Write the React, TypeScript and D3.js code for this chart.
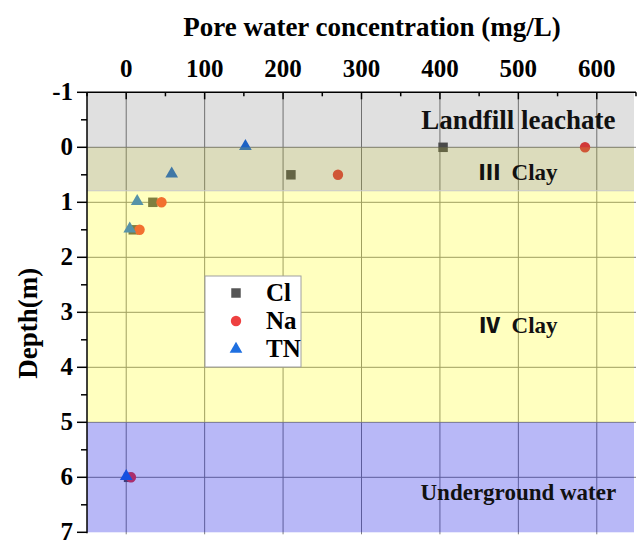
import * as d3 from "d3";

// depth of each sampling point (m) and concentration of each species (mg/L)
const depths = [0, 0.5, 1, 1.5, 6];
const cl = [404, 210, 34, 9, 3];
const na = [585, 270, 45, 17, 6];
const tn = [152, 58, 14, 4.5, 0];

const xTicks = [0, 100, 200, 300, 400, 500, 600];
const yTicks = [-1, 0, 1, 2, 3, 4, 5, 6, 7];

// soil layers: top / bottom depth (m)
const layerNames = ["Landfill leachate", "Clay", "Clay", "Underground water"];
const layerNums = ["", "Ⅲ", "Ⅳ", ""];
const layerTop = [-1, 0, 0.79, 5];
const layerBottom = [0, 0.79, 5, 7];
const layerLabelDepth = [-0.33, 0.6, 3.38, 6.42];
const layerFill = [
  "rgba(0,0,0,0.12)",
  "rgba(138,138,32,0.3)",
  "rgba(255,255,0,0.25)",
  "rgba(0,0,228,0.28)",
];

const W = 639;
const H = 543;
const M = { left: 87, right: 636, top: 92.3, bottom: 532.3 };
const FONT = "'Liberation Serif', 'Times New Roman', serif";

const CL_COLOR = "#555555";
const NA_COLOR = "#ee4040";
const TN_COLOR = "#1f6fe0";

const x = d3.scaleLinear().domain([-50, 650]).range([M.left, M.right]);
const y = d3.scaleLinear().domain([-1, 7]).range([M.top, M.bottom]);

const tri = d3.symbol().type(d3.symbolTriangle).size(70)();
const sq = d3.symbol().type(d3.symbolSquare).size(90)();
const circ = d3.symbol().type(d3.symbolCircle).size(85)();

export default function App() {
  const minorY = d3.range(-0.5, 7, 1);
  const minorX = d3.range(-50, 651, 100);

  return (
    <svg width={W} height={H} style={{ position: "absolute", left: 0, top: 0 }} fontFamily={FONT}>
      <rect width={W} height={H} fill="#fff" />

      {/* grid */}
      {xTicks.map((t) => (
        <line key={"gx" + t} x1={x(t)} x2={x(t)} y1={M.top} y2={M.bottom + 2} stroke="#808080" strokeWidth={1} />
      ))}
      {yTicks.slice(1, -1).map((t) => (
        <line key={"gy" + t} x1={M.left} x2={M.right} y1={y(t)} y2={y(t)} stroke="#808080" strokeWidth={1} />
      ))}

      {/* points */}
      {depths.map((d, i) => (
        <path key={"cl" + i} d={sq!} transform={`translate(${x(cl[i])},${y(d)})`} fill={CL_COLOR} />
      ))}
      {depths.map((d, i) => (
        <path key={"na" + i} d={circ!} transform={`translate(${x(na[i])},${y(d)})`} fill={NA_COLOR} />
      ))}
      {depths.map((d, i) => (
        <path key={"tn" + i} d={tri!} transform={`translate(${x(tn[i])},${y(d) - 1})`} fill={TN_COLOR} />
      ))}

      {/* layers, drawn translucent over the data */}
      {layerNames.map((n, i) => (
        <rect
          key={"ly" + i}
          x={M.left}
          width={M.right - M.left - 2}
          y={y(layerTop[i])}
          height={y(layerBottom[i]) - y(layerTop[i])}
          fill={layerFill[i]}
        />
      ))}
      <line x1={M.left} x2={M.right - 2} y1={y(0.79)} y2={y(0.79)} stroke="#c8c8c8" strokeWidth={1} />

      {layerNames.map((n, i) => (
        <text
          key={"lt" + i}
          x={x(500)}
          y={y(layerLabelDepth[i])}
          textAnchor="middle"
          fontWeight="bold"
          fontSize={i === 0 ? 27 : 23}
          fill="#111"
        >
          {layerNums[i] && (
            <tspan fontFamily="'Noto Sans CJK SC', sans-serif" fontWeight="900" fontSize={21}>
              {layerNums[i]}
            </tspan>
          )}
          {layerNums[i] ? "\u00a0\u00a0" + n : n}
        </text>
      ))}

      {/* legend */}
      <g>
        <rect x={205} y={276} width={96} height={91} fill="#fff" stroke="#a0a0a0" strokeWidth={1} />
        {["Cl", "Na", "TN"].map((s, i) => {
          const cy = 293 + i * 28;
          const p = i === 0 ? sq : i === 1 ? circ : tri;
          const c = i === 0 ? CL_COLOR : i === 1 ? NA_COLOR : TN_COLOR;
          return (
            <g key={s}>
              <path d={p!} transform={`translate(236,${cy})`} fill={c} />
              <text x={266} y={cy + 8} fontSize={25} fontWeight="bold">
                {s}
              </text>
            </g>
          );
        })}
      </g>

      {/* left axis */}
      <line x1={M.left} x2={M.left} y1={M.top} y2={M.bottom + 1} stroke="#000" strokeWidth={1.5} />
      {yTicks.map((t) => (
        <g key={"yt" + t}>
          <line x1={M.left - 10} x2={M.left} y1={y(t)} y2={y(t)} stroke="#000" strokeWidth={1.5} />
          <text x={M.left - 14} y={y(t) + 8} textAnchor="end" fontSize={25} fontWeight="bold">
            {t}
          </text>
        </g>
      ))}
      {minorY.map((t) => (
        <line key={"ym" + t} x1={M.left - 6} x2={M.left} y1={y(t)} y2={y(t)} stroke="#000" strokeWidth={1.5} />
      ))}

      {/* top axis */}
      <line x1={M.left} x2={M.right} y1={M.top} y2={M.top} stroke="#000" strokeWidth={1.5} />
      {xTicks.map((t) => (
        <g key={"xt" + t}>
          <line x1={x(t)} x2={x(t)} y1={M.top} y2={M.top + 7} stroke="#000" strokeWidth={1.5} />
          <text x={x(t)} y={M.top - 15} textAnchor="middle" fontSize={25} fontWeight="bold">
            {t}
          </text>
        </g>
      ))}
      {minorX.map((t) => (
        <line key={"xm" + t} x1={x(t)} x2={x(t)} y1={M.top} y2={M.top + 4} stroke="#000" strokeWidth={1.5} />
      ))}

      {/* axis titles */}
      <text x={372} y={36} textAnchor="middle" fontSize={27} fontWeight="bold">
        Pore water concentration (mg/L)
      </text>
      <text
        transform={`translate(37,${(M.top + M.bottom) / 2 + 11}) rotate(-90)`}
        textAnchor="middle"
        fontSize={27}
        fontWeight="bold"
      >
        Depth(m)
      </text>
    </svg>
  );
}
